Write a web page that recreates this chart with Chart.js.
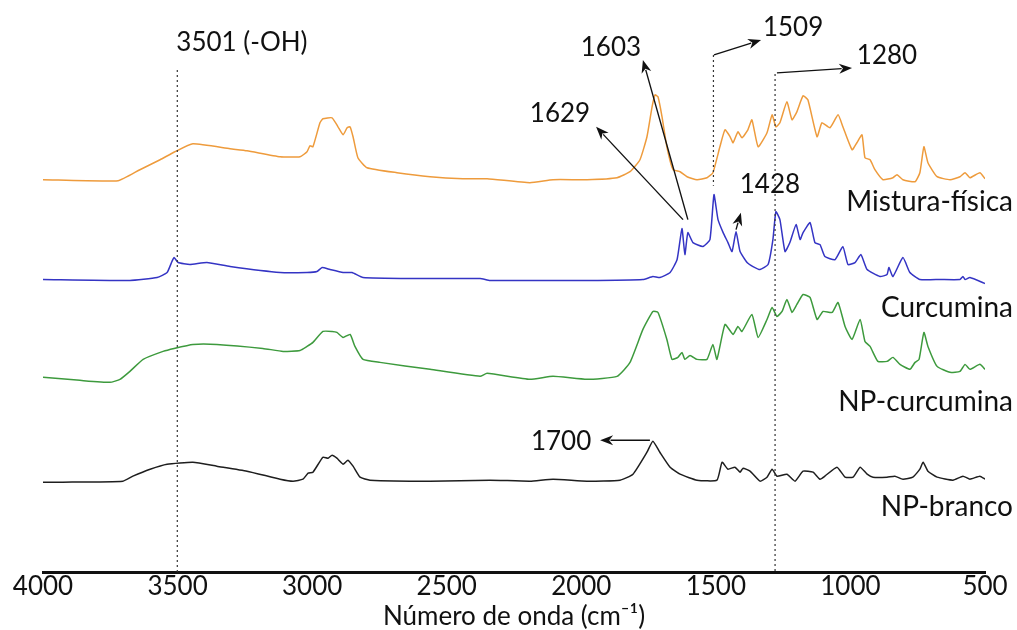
<!DOCTYPE html>
<html>
<head>
<meta charset="utf-8">
<script src="https://cdn.jsdelivr.net/npm/chart.js@4.4.1/dist/chart.umd.min.js"></script>
<style>
  body { margin:0; background:#fff; }
</style>
</head>
<body>
<canvas id="myChart" width="1017" height="630"></canvas>
<script>
// wavenumber (cm-1), intensity (a.u., curves offset)
const misturaFisica = [
  [4000,3.93],[3721,3.92],[3640,4.03],[3565,4.13],[3510,4.21],[3443,4.29],[3305,4.24],[3242,4.22],
  [3119,4.16],[3045,4.16],[3019,4.21],[3008,4.27],[2997,4.26],[2971,4.50],[2960,4.54],[2926,4.55],
  [2904,4.46],[2885,4.38],[2870,4.45],[2859,4.46],[2848,4.36],[2830,4.15],[2796,4.05],[2685,4.00],
  [2562,3.96],[2440,3.94],[2350,3.94],[2191,3.90],[2105,3.93],[1979,3.93],[1867,3.95],[1819,4.01],
  [1782,4.13],[1756,4.36],[1737,4.66],[1726,4.78],[1715,4.76],[1700,4.56],[1682,4.26],[1659,4.03],
  [1633,4.01],[1607,3.96],[1570,3.93],[1533,3.95],[1511,4.00],[1485,4.26],[1466,4.43],[1447,4.36],
  [1436,4.30],[1418,4.41],[1403,4.35],[1381,4.43],[1366,4.53],[1343,4.26],[1310,4.40],[1291,4.58],
  [1277,4.46],[1262,4.50],[1236,4.71],[1217,4.53],[1199,4.61],[1176,4.77],[1158,4.73],[1124,4.36],
  [1106,4.50],[1076,4.45],[1046,4.58],[1028,4.46],[994,4.23],[976,4.30],[957,4.38],[946,4.15],
  [927,4.13],[909,4.03],[879,3.93],[842,3.95],[827,3.98],[805,3.93],[760,3.91],[742,4.00],
  [727,4.26],[712,4.10],[678,3.96],[630,3.93],[593,3.96],[574,4.00],[556,3.95],[519,4.00],[500,3.94]
];
const curcumina = [
  [4000,2.93],[3677,2.92],[3576,2.95],[3539,3.00],[3521,3.11],[3513,3.15],[3498,3.10],[3454,3.08],
  [3391,3.10],[3305,3.06],[3119,3.00],[3019,3.00],[2982,3.01],[2963,3.05],[2934,3.03],[2885,3.00],
  [2852,3.00],[2811,2.95],[2625,2.94],[2376,2.94],[2339,2.92],[2191,2.92],[1979,2.92],[1771,2.93],
  [1734,2.96],[1708,2.95],[1670,3.00],[1644,3.13],[1626,3.44],[1615,3.18],[1604,3.40],[1585,3.30],
  [1548,3.26],[1522,3.33],[1507,3.78],[1492,3.53],[1473,3.40],[1455,3.30],[1440,3.21],[1425,3.41],
  [1410,3.21],[1384,3.10],[1362,3.06],[1336,3.03],[1306,3.08],[1288,3.33],[1277,3.61],[1262,3.53],
  [1243,3.21],[1225,3.30],[1202,3.48],[1187,3.33],[1176,3.40],[1150,3.50],[1132,3.30],[1113,3.28],
  [1095,3.16],[1057,3.13],[1028,3.26],[1009,3.08],[983,3.10],[961,3.18],[938,3.03],[890,2.96],
  [864,2.98],[857,3.05],[842,2.96],[805,3.15],[779,3.00],[742,2.93],[667,2.93],[593,2.93],
  [582,2.96],[574,2.93],[556,2.95],[500,2.89]
];
const npCurcumina = [
  [4000,1.95],[3863,1.92],[3751,1.90],[3714,1.93],[3677,2.01],[3628,2.13],[3554,2.21],[3513,2.24],
  [3443,2.28],[3354,2.28],[3183,2.24],[3108,2.21],[3045,2.22],[3019,2.26],[2997,2.30],[2960,2.41],
  [2926,2.41],[2908,2.40],[2885,2.35],[2859,2.38],[2841,2.26],[2811,2.13],[2748,2.10],[2562,2.03],
  [2376,1.96],[2350,1.99],[2191,1.93],[2105,1.96],[1979,1.93],[1867,1.96],[1819,2.10],[1771,2.43],
  [1734,2.61],[1715,2.60],[1682,2.33],[1663,2.13],[1641,2.15],[1626,2.20],[1615,2.13],[1596,2.17],
  [1570,2.13],[1533,2.13],[1511,2.28],[1496,2.13],[1466,2.48],[1436,2.38],[1418,2.46],[1403,2.41],
  [1366,2.58],[1343,2.35],[1310,2.53],[1291,2.65],[1273,2.56],[1254,2.61],[1236,2.73],[1217,2.60],
  [1199,2.68],[1176,2.78],[1150,2.75],[1124,2.53],[1102,2.61],[1068,2.60],[1046,2.70],[1020,2.46],
  [994,2.33],[964,2.53],[946,2.31],[927,2.26],[898,2.11],[864,2.11],[842,2.15],[816,2.08],
  [779,2.03],[760,2.10],[745,2.13],[727,2.40],[712,2.26],[678,2.06],[630,2.00],[593,2.01],
  [574,2.08],[556,2.03],[519,2.08],[500,2.03]
];
const npBranco = [
  [4000,0.90],[3926,0.90],[3703,0.91],[3666,0.96],[3602,1.03],[3539,1.08],[3443,1.10],[3354,1.06],
  [3242,1.01],[3119,0.93],[3071,0.91],[3034,0.93],[3015,0.99],[2997,1.00],[2960,1.15],[2941,1.14],
  [2926,1.17],[2908,1.14],[2885,1.08],[2867,1.12],[2848,1.06],[2822,0.95],[2785,0.92],[2562,0.91],
  [2339,0.92],[2191,0.91],[2105,0.93],[1979,0.91],[1856,0.92],[1808,0.98],[1756,1.20],[1734,1.31],
  [1708,1.20],[1670,1.05],[1633,0.98],[1570,0.92],[1496,0.92],[1477,1.10],[1455,1.03],[1429,1.05],
  [1410,1.00],[1399,1.04],[1373,1.01],[1336,0.91],[1310,0.95],[1291,1.03],[1273,0.96],[1236,0.98],
  [1206,0.91],[1176,1.01],[1139,1.00],[1113,0.93],[1095,0.96],[1050,1.05],[1020,0.95],[990,0.95],
  [964,1.05],[938,0.98],[916,0.95],[864,0.95],[835,0.96],[805,0.93],[768,0.95],[742,1.03],
  [730,1.10],[712,1.01],[678,0.95],[619,0.92],[582,0.96],[556,0.93],[519,0.96],[500,0.93]
];

const seriesNames = ['Mistura-física','Curcumina','NP-curcumina','NP-branco'];
const seriesColors = ['#ee9b3c','#3434c4','#3d9a3d','#1e1e1e'];
const seriesLabelY = [3.71, 2.65, 1.70, 0.65];

// peak labels: text, x, y
const peakLabels = [
  ['3501 (-OH)', 3261, 5.30],
  ['1603', 1890, 5.25],
  ['1509', 1213, 5.45],
  ['1280', 864, 5.17],
  ['1629', 2079, 4.59],
  ['1428', 1299, 3.88],
  ['1700', 2075, 1.31]
];
// arrows: from x,y to x,y
const arrows = [
  [1604, 3.53, 1771, 5.13],
  [1622, 3.53, 1945, 4.46],
  [1507, 5.18, 1332, 5.33],
  [1273, 5.00, 994, 5.05],
  [1425, 3.43, 1407, 3.60],
  [1745, 1.32, 1930, 1.32]
];
// dotted guide lines: x, y top, y bottom
const guides = [
  [3501, 5.03, 0],
  [1509, 5.18, 3.87],
  [1280, 4.99, 0]
];

const fontName = 'Lato, "Open Sans", sans-serif';

const annotations = {
  id: 'annotations',
  afterDatasetsDraw(chart) {
    const c = chart.ctx, xs = chart.scales.x, ys = chart.scales.y;
    c.save();
    // dotted lines
    c.strokeStyle = '#333';
    c.lineWidth = 1.2;
    c.setLineDash([2, 3]);
    guides.forEach(g => {
      const x = xs.getPixelForValue(g[0]);
      c.beginPath();
      c.moveTo(x, ys.getPixelForValue(g[1]));
      c.lineTo(x, ys.getPixelForValue(g[2]));
      c.stroke();
    });
    c.setLineDash([]);
    // arrows
    c.strokeStyle = '#111';
    c.fillStyle = '#111';
    c.lineWidth = 1.4;
    arrows.forEach(a => {
      const x1 = xs.getPixelForValue(a[0]), y1 = ys.getPixelForValue(a[1]);
      const x2 = xs.getPixelForValue(a[2]), y2 = ys.getPixelForValue(a[3]);
      const ang = Math.atan2(y2 - y1, x2 - x1);
      const hl = 13, hw = 5;
      c.beginPath();
      c.moveTo(x1, y1);
      c.lineTo(x2 - hl * 0.8 * Math.cos(ang), y2 - hl * 0.8 * Math.sin(ang));
      c.stroke();
      c.beginPath();
      c.moveTo(x2, y2);
      c.lineTo(x2 - hl * Math.cos(ang) + hw * Math.sin(ang), y2 - hl * Math.sin(ang) - hw * Math.cos(ang));
      c.lineTo(x2 - hl * 0.7 * Math.cos(ang), y2 - hl * 0.7 * Math.sin(ang));
      c.lineTo(x2 - hl * Math.cos(ang) - hw * Math.sin(ang), y2 - hl * Math.sin(ang) + hw * Math.cos(ang));
      c.closePath();
      c.fill();
    });
    // text
    c.fillStyle = '#111';
    c.textBaseline = 'middle';
    c.font = '26px ' + fontName;
    c.textAlign = 'center';
    peakLabels.forEach(p => {
      c.fillText(p[0], xs.getPixelForValue(p[1]), ys.getPixelForValue(p[2]));
    });
    c.textAlign = 'right';
    c.font = '28px ' + fontName;
    seriesNames.forEach((n, i) => {
      c.fillText(n, chart.width - 4, ys.getPixelForValue(seriesLabelY[i]));
    });
    c.restore();
  }
};

const ctx = document.getElementById('myChart').getContext('2d');

const data = {
  datasets: [misturaFisica, curcumina, npCurcumina, npBranco].map((s, i) => ({
    label: seriesNames[i],
    data: s.map(p => ({x: p[0], y: p[1]})),
    borderColor: seriesColors[i],
    borderWidth: 1.5,
    pointRadius: 0,
    showLine: true,
    tension: 0.15,
    fill: false
  }))
};

const config = {
  type: 'scatter',
  data: data,
  options: {
    responsive: false,
    animation: false,
    layout: { padding: { left: 43, right: 32, top: 10, bottom: 0 } },
    plugins: { legend: { display: false }, tooltip: { enabled: false } },
    scales: {
      x: {
        type: 'linear',
        reverse: true,
        min: 500,
        max: 4000,
        grid: { display: false, drawTicks: false },
        border: { display: true, color: '#111', width: 3 },
        ticks: {
          stepSize: 500,
          padding: 2,
          color: '#111',
          font: { family: fontName, size: 26, lineHeight: 1 },
          callback: function(value) {
            return String(value);
          }
        },
        title: {
          display: true,
          text: 'Número de onda (cm⁻¹)',
          color: '#111',
          padding: { top: 2, bottom: 0 },
          font: { family: fontName, size: 26, lineHeight: 1 }
        }
      },
      y: {
        display: false,
        min: 0,
        max: 5.63
      }
    }
  },
  plugins: [annotations]
};

const mychart = new Chart(ctx, config);
</script>
</body>
</html>
